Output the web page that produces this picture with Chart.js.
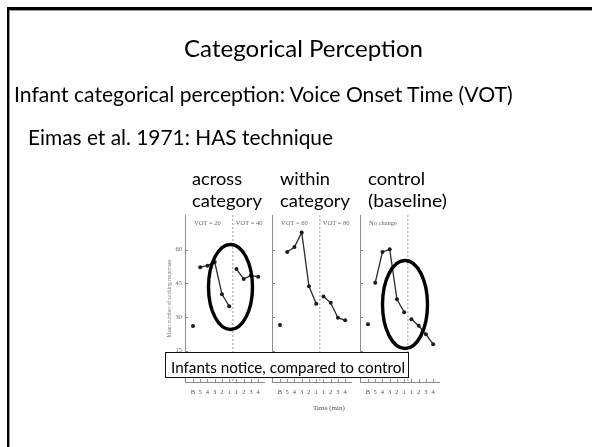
<!DOCTYPE html>
<html>
<head>
<meta charset="utf-8">
<script src="https://cdn.jsdelivr.net/npm/chart.js@4.4.1/dist/chart.umd.min.js"></script>
<style>
  html, body { margin: 0; padding: 0; background: #fff; }
  body { width: 592px; height: 447px; position: relative; overflow: hidden; }
  #slide { position: absolute; left: 7px; top: 7px; width: 620px; height: 500px;
           border-top: 3px solid #000; border-left: 2px solid #000; box-shadow: inset 1px 1px 0 #9a9a9a; }
  .txt { position: absolute; white-space: nowrap; line-height: normal; transform-origin: 0 0; color: #000; }
  .panel { position: absolute; top: 205px; }
  #rings { position: absolute; left: 0; top: 0; }
  #note { position: absolute; left: 165px; top: 352px; width: 244px; height: 26px; box-sizing: border-box;
          border: 1px solid #111; background: #fff; }
</style>
</head>
<body>
<div id="slide"></div>
<canvas class="panel" id="p0" width="105" height="195" style="left:163px"></canvas>
<canvas class="panel" id="p1" width="105" height="195" style="left:250px"></canvas>
<canvas class="panel" id="p2" width="105" height="195" style="left:338px"></canvas>
<svg id="rings" width="592" height="447">
  <ellipse cx="230.5" cy="287" rx="22" ry="42.5" fill="none" stroke="#000" stroke-width="3.4"/>
  <ellipse cx="405" cy="304.5" rx="22.5" ry="44" fill="none" stroke="#000" stroke-width="3.4"/>
</svg>
<div id="note"></div>
<script>
  // ---- data (Eimas et al. 1971, mean sucking responses per minute) ----
  const timeLabels = ["B", "5", "4", "3", "2", "1", "1", "2", "3", "4"];
  const conditionNames = [["VOT = 20", "VOT = 40"], ["VOT = 60", "VOT = 80"], ["No change", ""]];
  const baselineValues = [26, 26.4, 26.8];
  const preShift = [
    [52.2, 52.9, 54.5, 40.1, 34.8],
    [59, 61.2, 67.7, 43.7, 35.9],
    [45.3, 59, 60.2, 37.9, 32.1]
  ];
  const postShift = [
    [51.4, 47, 48.5, 47.9],
    [39.1, 36.3, 29.7, 28.5],
    [29, 26.1, 22.3, 17.8]
  ];
  const yTicks = [15, 30, 45, 60];
  const yTitle = "Mean number of sucking responses";

  // ---- slide text: left, baseline, size (px), target width ----
  const slideText = [
    { text: "Categorical Perception", x: 184, base: 57, size: 26.3, w: 239 },
    { text: "Infant categorical perception: Voice Onset Time (VOT)", x: 13.5, base: 102, size: 22.8, w: 500 },
    { text: "Eimas et al. 1971: HAS technique", x: 28, base: 144.5, size: 22.8, w: 305 },
    { text: "across", x: 192, base: 185, size: 19.7, w: 50 },
    { text: "category", x: 192, base: 206.5, size: 19.7, w: 70 },
    { text: "within", x: 280, base: 185, size: 19.7, w: 50 },
    { text: "category", x: 280, base: 206.5, size: 19.7, w: 70 },
    { text: "control", x: 368, base: 185, size: 19.7, w: 57 },
    { text: "(baseline)", x: 368, base: 206.5, size: 19.7, w: 79 },
    { text: "Time (min)", x: 313, base: 410, size: 7, serif: true },
    { text: "Infants notice, compared to control", x: 171, base: 372.5, size: 16, w: 234 }
  ];

  const measure = document.createElement("canvas").getContext("2d");
  function placeText(item) {
    const el = document.createElement("div");
    el.className = "txt";
    el.textContent = item.text;
    const font = item.serif
      ? item.size + 'px "Liberation Serif", serif'
      : (item.size * 0.9) + "px Lato, sans-serif";
    el.style.font = font;
    el.style.lineHeight = "normal";
    if (item.serif) el.style.color = "#555";
    measure.font = font;
    const m = measure.measureText(item.text);
    el.style.left = item.x + "px";
    el.style.top = (item.base - m.fontBoundingBoxAscent) + "px";
    if (item.w) el.style.transform = "scaleX(" + (item.w / m.width) + ")";
    document.body.appendChild(el);
  }

  const axisGrey = "#8c8c8c";
  const figFont = { family: '"Liberation Serif", serif', size: 6.5 };

  // dashed shift line, condition labels, inward tick marks
  const panelDeco = {
    id: "panelDeco",
    beforeDatasetsDraw(chart, args, opts) {
      const { ctx, chartArea } = chart;
      const px = chart.scales.x.getPixelForValue(opts.split);
      ctx.save();
      ctx.strokeStyle = "#999";
      ctx.lineWidth = 1;
      ctx.setLineDash([2, 2]);
      ctx.beginPath();
      ctx.moveTo(px, chartArea.top);
      ctx.lineTo(px, chartArea.bottom);
      ctx.stroke();
      ctx.restore();
    },
    afterDraw(chart, args, opts) {
      const { ctx, chartArea } = chart;
      const x = chart.scales.x, y = chart.scales.y;
      ctx.save();
      ctx.strokeStyle = axisGrey;
      ctx.lineWidth = 1;
      ctx.beginPath();
      x.ticks.forEach(t => {
        const px = Math.round(x.getPixelForValue(t.value)) + 0.5;
        ctx.moveTo(px, chartArea.bottom);
        ctx.lineTo(px, chartArea.bottom - 3);
      });
      y.ticks.forEach(t => {
        const py = Math.round(y.getPixelForValue(t.value)) + 0.5;
        ctx.moveTo(chartArea.left, py);
        ctx.lineTo(chartArea.left + 3, py);
      });
      ctx.stroke();
      ctx.fillStyle = "#666";
      ctx.font = '6.5px "Liberation Serif", serif';
      ctx.textBaseline = "alphabetic";
      ctx.fillText(opts.names[0], x.getPixelForValue(0) + 1, chartArea.top + 9.5);
      ctx.fillText(opts.names[1], x.getPixelForValue(opts.split) + 3, chartArea.top + 9.5);
      ctx.restore();
    }
  };

  function makePanel(i) {
    const line = { borderColor: "#2b2b2b", borderWidth: 1.3, pointRadius: 2, pointBackgroundColor: "#1c1c1c",
                   pointBorderWidth: 0, tension: 0, showLine: true };
    new Chart(document.getElementById("p" + i), {
      type: "scatter",
      data: {
        datasets: [
          Object.assign({}, line, { data: [{ x: 0, y: baselineValues[i] }], showLine: false }),
          Object.assign({}, line, { data: preShift[i].map((v, k) => ({ x: k + 1, y: v })) }),
          Object.assign({}, line, { data: postShift[i].map((v, k) => ({ x: k + 6, y: v })) })
        ]
      },
      options: {
        responsive: false,
        animation: false,
        layout: { padding: { top: 10, right: 3.4, left: 0, bottom: 0 } },
        plugins: {
          legend: { display: false },
          tooltip: { enabled: false },
          panelDeco: { names: conditionNames[i], split: 5.5 }
        },
        scales: {
          x: {
            type: "linear", min: -1.1, max: 9.8,
            afterBuildTicks: s => { s.ticks = timeLabels.map((_, k) => ({ value: k })); },
            afterFit: s => { s.height = 18; },
            ticks: { callback: v => timeLabels[v], font: figFont, color: "#555", padding: 6,
                     maxRotation: 0, autoSkip: false },
            grid: { drawOnChartArea: false, drawTicks: false },
            border: { color: axisGrey, width: 1 }
          },
          y: {
            min: 1, max: 75.5,
            afterBuildTicks: s => { s.ticks = yTicks.map(v => ({ value: v })); },
            afterFit: s => { s.width = 22; },
            ticks: { display: i === 0, font: figFont, color: "#666", padding: 3 },
            grid: { drawOnChartArea: false, drawTicks: false },
            border: { color: axisGrey, width: 1 },
            title: { display: i === 0, text: yTitle, color: "#777",
                     font: { family: '"Liberation Serif", serif', size: 5.5 }, padding: { top: 3, bottom: 0 } }
          }
        }
      },
      plugins: [panelDeco]
    });
  }

  [0, 1, 2].forEach(makePanel);
  slideText.forEach(placeText);
</script>
</body>
</html>
